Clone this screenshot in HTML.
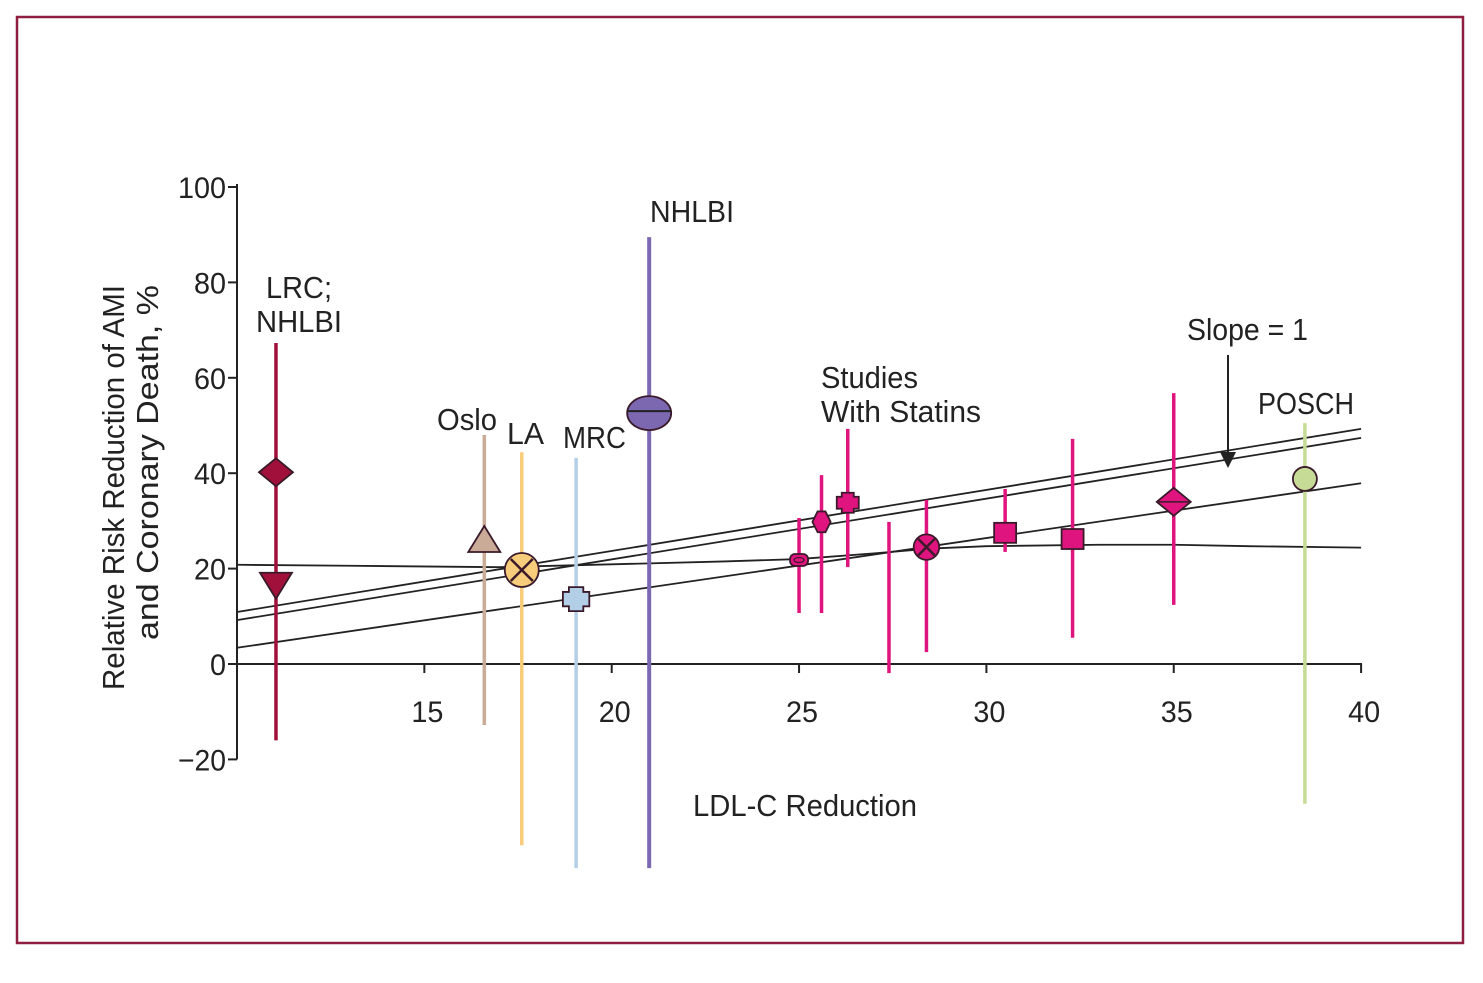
<!DOCTYPE html>
<html><head><meta charset="utf-8"><style>
html,body{margin:0;padding:0;background:#fff;}
body{position:relative;}
svg{display:block;font-family:"Liberation Sans",sans-serif;}
</style></head><body>
<svg id="chart" width="1483" height="983" viewBox="0 0 1483 983" xmlns="http://www.w3.org/2000/svg">
<rect x="17" y="17" width="1446" height="926" fill="none" stroke="#8f1d3f" stroke-width="2.5"/>
<g id="axes"></g>
<g id="lines"></g>
<g id="marks"></g>
</svg>
<script>
const xTicks=[15,20,25,30,35,40];
const yTicks=[100,80,60,40,20,0,-20];
const studyX=[11.04,16.6,17.6,19.05,21.0,25.0,25.6,26.3,27.4,28.4,30.5,32.3,35.0,38.5];
const studyY=[40.2,26,19.7,13.6,52.6,21.8,29.8,33.8,null,24.5,27.5,26.2,34,38.8];
const studyHi=[67.3,48,44.4,43.2,89.5,30.6,39.6,49.3,29.8,34.4,36.7,47.2,56.8,50.5];
const studyLo=[-16,-12.8,-38,-42.8,-42.8,10.7,10.7,20.3,-1.9,2.5,23.5,5.5,12.4,-29.3];
const studyShape=['diamond','triangle','xcircle','cross','ellipse','oval','hexagon','cross','none','xcircle','square','square','diamond','circle'];
const studySize=[1,1,1,1.2,1,1,1.3,1,1,0.75,1,1,1,1];
const studyColor=['#a0103a','#c9ab97','#f7cc7a','#b3cfe8','#7b68b0','#e0147e','#e0147e','#e0147e','#e0147e','#e0147e','#e0147e','#e0147e','#e0147e','#c6dc96'];
const lrcSecondY=16.4;
const lineAX=[10,40], lineAY=[10.9,49.3];
const lineBX=[10,40], lineBY=[9.2,47.4];
const lineCX=[10,40], lineCY=[3.4,37.9];
const curveX=[10,13,17,20,23,25,27,28.5,30,33,35,37,40];
const curveY=[20.8,20.6,20.3,20.9,21.5,22.0,23.2,24.2,24.7,25.0,25.0,24.7,24.4];
const NS='http://www.w3.org/2000/svg';
const X=v=>237+(v-10)*37.47, Y=v=>664-v*4.77;
function mk(t,a,p){const e=document.createElementNS(NS,t);for(const k in a)e.setAttribute(k,a[k]);p.appendChild(e);return e;}
const axes=document.getElementById('axes');
let e=mk('line',{x1:237,y1:Y(100)-3,x2:237,y2:Y(-20),stroke:'#222','stroke-width':2},axes);


e=mk('line',{x1:237,y1:664,x2:1362,y2:664,stroke:'#222','stroke-width':2},axes);


yTicks.forEach(v=>{const t=mk('line',{x1:228,x2:237,y1:Y(v),y2:Y(v),stroke:'#222','stroke-width':2},axes);


const s=v<0?'\u2212'+(-v):String(v);
const l=mk('text',{x:226,y:Y(v)+11,'text-anchor':'end','font-size':30,fill:'#222',textLength:s.length*16,lengthAdjust:'spacingAndGlyphs'},axes);l.textContent=s;

});
xTicks.forEach(v=>{const t=mk('line',{x1:X(v),x2:X(v),y1:664,y2:673,stroke:'#222','stroke-width':2},axes);


const l=mk('text',{x:X(v)+3,y:722,'text-anchor':'middle','font-size':30,fill:'#222',textLength:32,lengthAdjust:'spacingAndGlyphs'},axes);l.textContent=v;

});
const lines=document.getElementById('lines');
function pl(xs,ys,name){const p=mk('polyline',{points:xs.map((x,i)=>X(x)+','+Y(ys[i])).join(' '),fill:'none',stroke:'#222','stroke-width':1.8,'stroke-linejoin':'round'},lines);

}
pl(lineAX,lineAY,'slope-one-line');pl(lineBX,lineBY,'regression-line-b');pl(lineCX,lineCY,'regression-line-c');pl(curveX,curveY,'regression-curve');
const arrow=mk('line',{x1:1228,y1:355,x2:1228,y2:455,stroke:'#222','stroke-width':2},lines);


const ah=mk('polygon',{points:'1220,452 1236,452 1228,468',fill:'#222'},lines);


const marks=document.getElementById('marks');
function shape(s,cx,cy,c,k){const st={fill:c,stroke:'#3a1a2a','stroke-width':1.8};let el;
if(s==='diamond'){el=mk('polygon',Object.assign({points:`${cx-17},${cy} ${cx},${cy-14} ${cx+17},${cy} ${cx},${cy+14}`},st),marks);}
else if(s==='tridown'){el=mk('polygon',Object.assign({points:`${cx-16},${cy-13} ${cx+16},${cy-13} ${cx},${cy+13}`},st),marks);}
else if(s==='triangle'){el=mk('polygon',Object.assign({points:`${cx-16},${cy+12} ${cx+16},${cy+12} ${cx},${cy-14}`},st),marks);}
else if(s==='xcircle'){const r=17*k,d=11*k;el=mk('circle',Object.assign({cx,cy,r},st),marks);
mk('path',{d:`M${cx-d},${cy-d}L${cx+d},${cy+d}M${cx+d},${cy-d}L${cx-d},${cy+d}`,stroke:'#3a1a2a','stroke-width':2.5},marks);}
else if(s==='cross'){const a=6*k,b=10*k,w=11*k;el=mk('polygon',Object.assign({points:`${cx-a},${cy-b} ${cx+a},${cy-b} ${cx+a},${cy-a} ${cx+w},${cy-a} ${cx+w},${cy+a} ${cx+a},${cy+a} ${cx+a},${cy+b} ${cx-a},${cy+b} ${cx-a},${cy+a} ${cx-w},${cy+a} ${cx-w},${cy-a} ${cx-a},${cy-a}`},st),marks);}
else if(s==='ellipse'){el=mk('ellipse',Object.assign({cx,cy,rx:22,ry:17},st),marks);
mk('line',{x1:cx-22,x2:cx+22,y1:cy-2,y2:cy-2,stroke:'#222','stroke-width':2},marks);}
else if(s==='oval'){el=mk('rect',Object.assign({x:cx-9,y:cy-6,width:18,height:12,rx:5},st),marks);
mk('ellipse',{cx,cy,rx:5,ry:2.5,fill:'none',stroke:'#3a1a2a','stroke-width':1.2},marks);}
else if(s==='hexagon'){const h=7*k,v=8*k,q=3*k;el=mk('polygon',Object.assign({points:`${cx-h},${cy} ${cx-q},${cy-v} ${cx+q},${cy-v} ${cx+h},${cy} ${cx+q},${cy+v} ${cx-q},${cy+v}`},st),marks);}
else if(s==='square'){el=mk('rect',Object.assign({x:cx-11,y:cy-10,width:22,height:20},st),marks);}
else if(s==='circle'){el=mk('circle',Object.assign({cx,cy,r:12},st),marks);}
if(s==='diamond'&&c==='#e0147e'){mk('line',{x1:cx-17,x2:cx+17,y1:cy,y2:cy,stroke:'#3a1a2a','stroke-width':1.5},marks);}
return el;}
studyX.forEach((x,i)=>{const cx=X(x);
const b=mk('line',{x1:cx,x2:cx,y1:Y(studyHi[i]),y2:Y(studyLo[i]),stroke:studyColor[i],'stroke-width':i===4?4:3.5},marks);


if(studyY[i]!==null){const m=shape(studyShape[i],cx,Y(studyY[i]),studyColor[i],studySize[i]);

}
if(i===0){const m2=shape('tridown',cx,Y(lrcSecondY),studyColor[0],1);

}});
</script>
<svg style="position:absolute;left:0;top:0" width="1483" height="983">
<g font-family="Liberation Sans, sans-serif" font-size="31" fill="#222" lengthAdjust="spacingAndGlyphs">
<text x="299" y="298" text-anchor="middle" textLength="66" lengthAdjust="spacingAndGlyphs">LRC;</text>
<text x="299" y="332" text-anchor="middle" textLength="86" lengthAdjust="spacingAndGlyphs">NHLBI</text>
<text x="437" y="430" textLength="60" lengthAdjust="spacingAndGlyphs">Oslo</text>
<text x="507" y="444" textLength="37" lengthAdjust="spacingAndGlyphs">LA</text>
<text x="563" y="448" textLength="63" lengthAdjust="spacingAndGlyphs">MRC</text>
<text x="650" y="222" textLength="84" lengthAdjust="spacingAndGlyphs">NHLBI</text>
<text x="821" y="388" textLength="97" lengthAdjust="spacingAndGlyphs">Studies</text>
<text x="821" y="422" textLength="160" lengthAdjust="spacingAndGlyphs">With Statins</text>
<text x="1187" y="340" textLength="121" lengthAdjust="spacingAndGlyphs">Slope = 1</text>
<text x="1258" y="414" textLength="96" lengthAdjust="spacingAndGlyphs">POSCH</text>
<text x="693" y="816" textLength="224" lengthAdjust="spacingAndGlyphs">LDL-C Reduction</text>
<g transform="translate(124,690) rotate(-90)">
<text x="0" y="0" textLength="405" lengthAdjust="spacingAndGlyphs">Relative Risk Reduction of AMI</text>
<text x="50" y="34" textLength="355" lengthAdjust="spacingAndGlyphs">and Coronary Death, %</text>
</g>
</g>
</svg>
</body></html>
